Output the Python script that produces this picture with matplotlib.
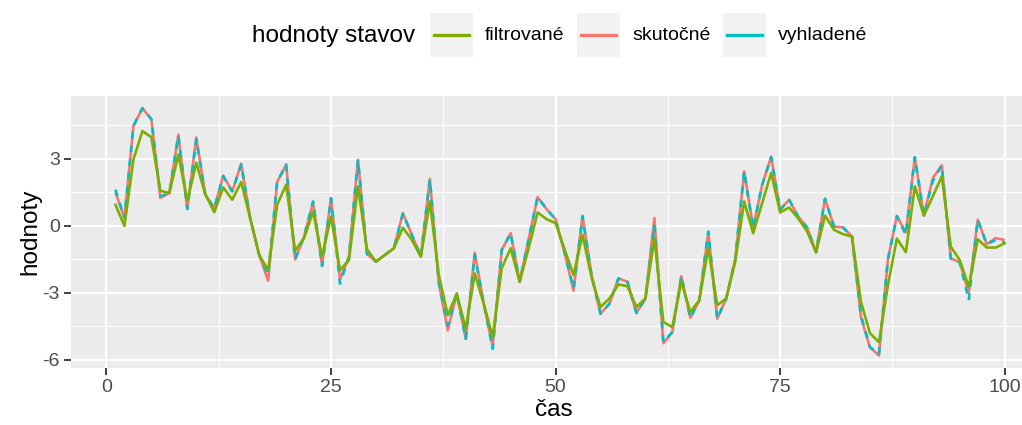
import numpy as np
import matplotlib
matplotlib.use("Agg")
import matplotlib.pyplot as plt
from matplotlib.lines import Line2D
from matplotlib.patches import Rectangle

plt.rcParams['font.family'] = ['Liberation Sans', 'DejaVu Sans']
plt.rcParams['axes.unicode_minus'] = False

# data
cas = np.arange(1, 101)

vyhladene = [1.62, 0.35, 4.47, 5.26, 4.77, 1.32, 1.47, 4.02, 0.76, 3.87,
             1.39, 0.79, 2.22, 1.54, 2.74, 0.34, -1.3, -2.2, 1.96, 2.74,
             -1.5, -0.48, 1.09, -1.8, 1.24, -2.58, -1.38, 2.94, -1.25, -1.6,
             -1.3, -1.0, 0.55, -0.4, -1.38, 2.07, -2.55, -4.45, -3.03, -5.05,
             -1.3, -3.48, -5.5, -1.08, -0.33, -2.5, -0.6, 1.29, 0.75, 0.3,
             -1.2, -2.8, 0.42, -2.2, -3.93, -3.48, -2.35, -2.5, -3.9, -3.25,
             0.0, -5.2, -4.75, -2.25, -4.12, -3.33, -0.25, -4.15, -3.25, -1.5,
             2.44, -0.1, 1.84, 3.07, 0.72, 1.17, 0.42, -0.07, -1.18, 1.21,
             -0.03, -0.07, -0.48, -4.0, -5.43, -5.73, -1.5, 0.44, -0.4, 3.07,
             0.46, 2.0, 2.71, -1.48, -1.63, -3.33, 0.27, -0.82, -0.63, -0.75]

skutocne = [1.5, 0.35, 4.47, 5.26, 4.77, 1.25, 1.47, 4.08, 0.76, 3.95,
            1.39, 0.79, 2.25, 1.54, 2.78, 0.34, -1.3, -2.45, 1.96, 2.74,
            -1.5, -0.48, 1.05, -1.75, 1.24, -2.4, -1.38, 2.96, -1.25, -1.6,
            -1.3, -1.0, 0.57, -0.4, -1.38, 2.1, -2.55, -4.68, -3.03, -5.05,
            -1.2, -3.48, -5.4, -1.08, -0.33, -2.5, -0.6, 1.29, 0.75, 0.3,
            -1.2, -2.9, 0.45, -2.2, -3.93, -3.48, -2.35, -2.5, -3.9, -3.25,
            0.35, -5.25, -4.75, -2.25, -4.12, -3.33, -0.3, -4.15, -3.25, -1.5,
            2.44, -0.1, 1.84, 3.1, 0.72, 1.17, 0.42, -0.07, -1.18, 1.21,
            -0.03, -0.07, -0.48, -4.1, -5.43, -5.8, -1.5, 0.44, -0.3, 3.07,
            0.46, 2.14, 2.71, -1.45, -1.63, -3.0, 0.27, -0.82, -0.55, -0.63]

filtrovane = [0.94, 0.0, 2.97, 4.24, 3.97, 1.57, 1.47, 3.19, 1.12, 2.82,
              1.42, 0.61, 1.72, 1.17, 1.96, 0.34, -1.3, -1.98, 0.94, 1.84,
              -1.1, -0.55, 0.64, -1.38, 0.42, -1.98, -1.53, 1.77, -1.05, -1.6,
              -1.3, -1.0, -0.08, -0.63, -1.38, 1.09, -2.2, -4.0, -3.03, -4.6,
              -2.13, -3.48, -4.98, -1.9, -1.0, -2.5, -1.0, 0.6, 0.3, 0.12,
              -1.05, -2.2, -0.4, -2.3, -3.63, -3.25, -2.62, -2.7, -3.63, -3.25,
              -0.55, -4.3, -4.53, -2.5, -3.85, -3.33, -1.0, -3.55, -3.25, -1.6,
              1.09, -0.33, 1.02, 2.37, 0.6, 0.82, 0.34, -0.25, -1.18, 0.46,
              -0.18, -0.37, -0.48, -3.4, -4.8, -5.2, -2.65, -0.57, -1.18, 1.77,
              0.46, 1.32, 2.22, -0.93, -1.53, -2.73, -0.6, -0.97, -0.97, -0.78]

labels = ["filtrované", "skutočné", "vyhladené"]
colors = ["#7CAE00", "#F8766D", "#00BFC4"]

W, H = 1022, 425
fig = plt.figure(figsize=(W / 100, H / 100), dpi=100)

# panel in pixels: left 71, top 96, bottom 368, continues past right edge
x0, x1 = 71, 71 + 108.9 * 8.982
y0, y1 = 96, 367.7
ax = fig.add_axes([x0 / W, 1 - y1 / H, (x1 - x0) / W, (y1 - y0) / H])
ax.set_facecolor("#EBEBEB")
for s in ax.spines.values():
    s.set_visible(False)

ax.set_xlim(-3.95, 104.95)
ax.set_ylim(-6.345, 5.81)
ax.set_xticks([0, 25, 50, 75, 100])
ax.set_yticks([-6, -3, 0, 3])
ax.set_xticks([12.5, 37.5, 62.5, 87.5], minor=True)
ax.set_yticks([-4.5, -1.5, 1.5, 4.5], minor=True)
ax.grid(which="major", color="white", linewidth=1.6)
ax.grid(which="minor", color="white", linewidth=0.8)
ax.set_axisbelow(True)
ax.tick_params(which="major", length=5, width=1.3, color="#333333",
               labelsize=14, labelcolor="#4D4D4D", pad=3)
ax.tick_params(which="minor", length=0)

ax.plot(cas, skutocne, color=colors[1], lw=1.9, solid_capstyle="butt")
ax.plot(cas, vyhladene, color=colors[2], lw=1.9, dashes=(2.6, 2.6))
ax.plot(cas, filtrovane, color=colors[0], lw=1.9)

fig.text(30 / W, 1 - 232 / H, "hodnoty", rotation=90, ha="center", va="center",
         fontsize=17.5, color="black")
fig.text(554 / W, 1 - 410 / H, "čas", ha="center", va="center",
         fontsize=17.5, color="black")

# legend on top, ggplot style
def px(x, y):
    return x / W, 1 - y / H

fig.text(*px(252, 36), "hodnoty stavov", ha="left", va="center", fontsize=17.5)
key_x = [430, 577, 723]
for kx, lab, c in zip(key_x, labels, colors):
    fig.patches.append(Rectangle(px(kx, 57), 43 / W, 44 / H, transform=fig.transFigure,
                                 facecolor="#F2F2F2", edgecolor="none"))
    fig.lines.append(Line2D([(kx + 4) / W, (kx + 39) / W], [1 - 35 / H, 1 - 35 / H],
                            transform=fig.transFigure, color=c, lw=2.4))
    fig.text(*px(kx + 55, 36), lab, ha="left", va="center", fontsize=14)

fig.savefig("out.png", dpi=100)
